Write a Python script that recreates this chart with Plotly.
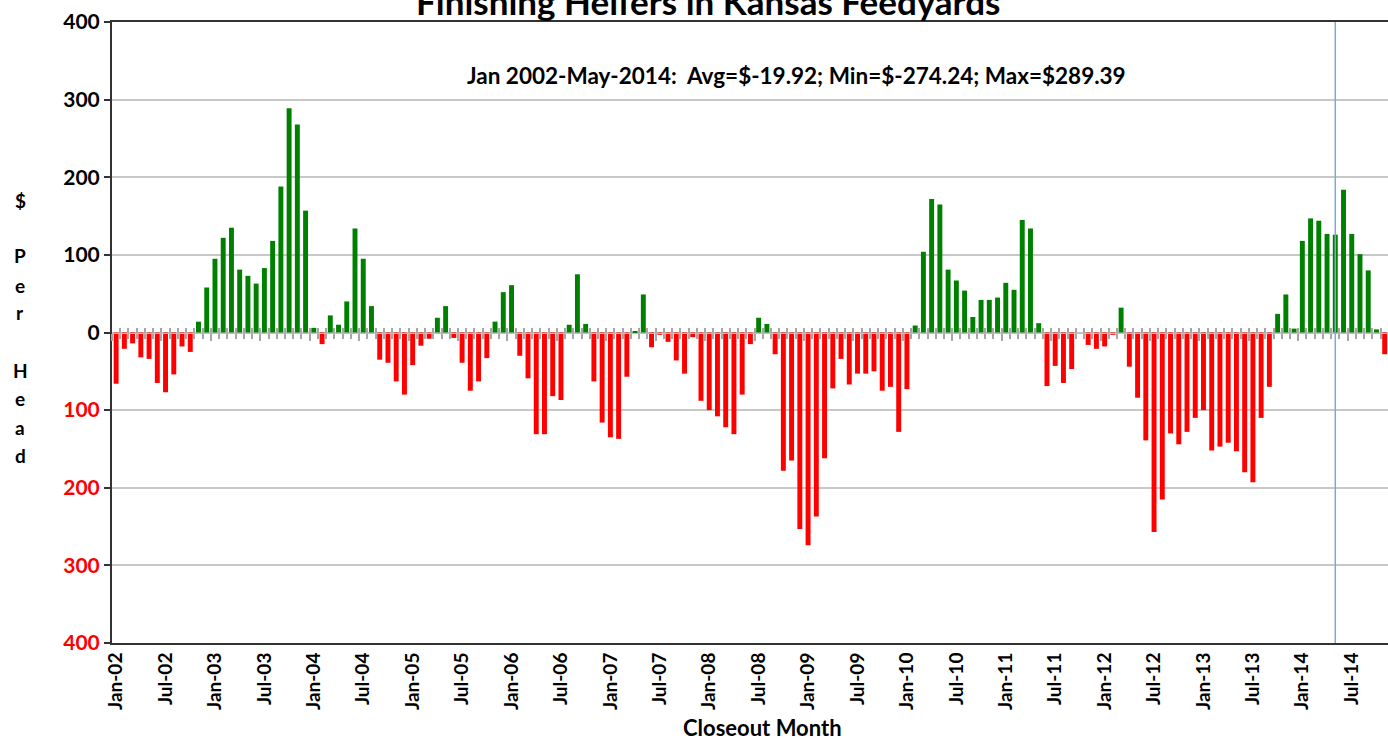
import plotly.graph_objects as go

# closeout months Jan-02 .. Nov-14
month_abbr = ['Jan', 'Feb', 'Mar', 'Apr', 'May', 'Jun', 'Jul', 'Aug', 'Sep', 'Oct', 'Nov', 'Dec']
months = [f"{m}-{y:02d}" for y in range(2, 15) for m in month_abbr][:155]

# $ per head
profit = [
    -66, -21, -14, -32, -34, -65, -77, -54, -18, -25, 14, 58,        # 2002
    95, 122, 135, 81, 73, 63, 83, 118, 188, 289, 268, 157,           # 2003
    6, -15, 22, 10, 40, 134, 95, 34, -35, -39, -63, -80,             # 2004
    -42, -17, -8, 19, 34, -7, -39, -75, -63, -33, 14, 52,            # 2005
    61, -30, -59, -131, -131, -82, -87, 10, 75, 11, -63, -116,       # 2006
    -135, -137, -57, 1, 49, -19, -3, -12, -36, -53, -6, -88,         # 2007
    -100, -108, -122, -131, -80, -15, 19, 11, -28, -178, -165, -253, # 2008
    -274, -237, -162, -72, -34, -67, -53, -53, -50, -75, -70, -128,  # 2009
    -73, 9, 104, 172, 165, 81, 67, 54, 20, 42, 42, 45,               # 2010
    64, 55, 145, 134, 12, -69, -43, -65, -47, 0, -16, -21,           # 2011
    -18, -3, 32, -44, -84, -139, -257, -215, -130, -144, -128, -110, # 2012
    -100, -152, -147, -142, -153, -180, -193, -110, -70, 24, 49, 5,  # 2013
    118, 147, 144, 127, 126, 184, 127, 101, 80, 4, -28,              # 2014
]

y_ticks = [400, 300, 200, 100, 0, -100, -200, -300, -400]
stats_text = "Jan 2002-May-2014:  Avg=$-19.92; Min=$-274.24; Max=$289.39"
cut_month = 'May-14'

FONT = 'Lato'
W, H = 1388, 751
L, T, B = 112, 22, 108
plot_h = H - T - B
plot_w = W - L

def py(p):   # pixel row -> paper y
    return (H - B - p) / plot_h

def px_(p):  # pixel column -> paper x
    return (p - L) / plot_w

idx = list(range(len(months)))
colors = ['#008000' if v >= 0 else '#ff0000' for v in profit]
x_range = [-0.5, len(months) - 0.6]

fig = go.Figure()
fig.add_trace(go.Bar(x=idx, y=profit, width=0.6, marker=dict(color=colors, line=dict(width=0)),
                     showlegend=False, hoverinfo='skip'))
# helper traces so the tick axes at zero get drawn
for ax in ['x2', 'x3']:
    fig.add_trace(go.Scatter(x=[0], y=[0], xaxis=ax, mode='markers', marker=dict(opacity=0),
                             showlegend=False, hoverinfo='skip'))

tick_idx = idx[::6]
fig.update_layout(
    width=W, height=H,
    margin=dict(l=L, r=0, t=T, b=B),
    plot_bgcolor='white', paper_bgcolor='white',
    bargap=0.4,
    xaxis=dict(range=x_range, tickmode='array', tickvals=tick_idx,
               ticktext=[months[i] for i in tick_idx], tickangle=-90,
               tickfont=dict(family=FONT, size=19, color='black', weight='bold'),
               ticks='', showgrid=False, zeroline=False,
               showline=True, linecolor='#333333', linewidth=2, mirror=True),
    xaxis2=dict(range=x_range, overlaying='x', anchor='free', position=0.5,
                tickmode='linear', tick0=-0.5, dtick=6, ticks='outside', ticklen=7,
                tickwidth=1.5, tickcolor='#a6a6a6', showticklabels=False, showgrid=False,
                zeroline=False, showline=True, linecolor='#bfbfbf', linewidth=1,
                minor=dict(tick0=-0.5, dtick=1, ticks='outside', ticklen=5, tickwidth=1.5,
                           tickcolor='#a6a6a6')),
    xaxis3=dict(range=x_range, overlaying='x', anchor='free', position=0.5,
                tickmode='linear', tick0=-0.5, dtick=1, ticks='inside', ticklen=5,
                tickwidth=1.5, tickcolor='#a6a6a6', showticklabels=False, showgrid=False,
                zeroline=False, showline=False),
    yaxis=dict(range=[-400, 400], tickmode='array', tickvals=y_ticks,
               ticktext=[str(v) if v >= 0 else f'<span style="color:#ff0000">{-v}</span>'
                         for v in y_ticks],
               tickfont=dict(family=FONT, size=21, color='black', weight='bold'),
               ticks='outside', ticklen=6, tickwidth=1.5, tickcolor='#333333',
               showgrid=True, gridcolor='#c8c8c8', gridwidth=1.5, zeroline=False,
               showline=True, linecolor='#333333', linewidth=2),
)

fig.add_vline(x=months.index(cut_month), line=dict(color='#7ea8dc', width=1.5))

# title, cut off at the top edge as in the source
fig.add_annotation(text='Finishing Heifers in Kansas Feedyards', xref='paper', yref='paper',
                   x=px_(708), y=py(1), xanchor='center', yanchor='middle', showarrow=False,
                   font=dict(family=FONT, size=35, color='black', weight='bold'))
fig.add_annotation(text=stats_text, xref='paper', yref='paper',
                   x=px_(796), y=py(75), xanchor='center', yanchor='middle', showarrow=False,
                   font=dict(family=FONT, size=22.5, color='black', weight='bold'))
fig.add_annotation(text='Closeout Month', xref='paper', yref='paper',
                   x=px_(762), y=py(727), xanchor='center', yanchor='middle', showarrow=False,
                   font=dict(family=FONT, size=22, color='black', weight='bold'))

# stacked y title "$ Per Head"
for ch, row in zip('$PerHead', [200, 255, 285, 312, 370, 398, 427, 455]):
    fig.add_annotation(text=ch, xref='paper', yref='paper', x=px_(20), y=py(row),
                       xanchor='center', yanchor='middle', showarrow=False,
                       font=dict(family=FONT, size=19, color='black', weight='bold'))

fig.write_html("out.html", config={'displayModeBar': False},
               post_script="document.body.style.margin='0';")
